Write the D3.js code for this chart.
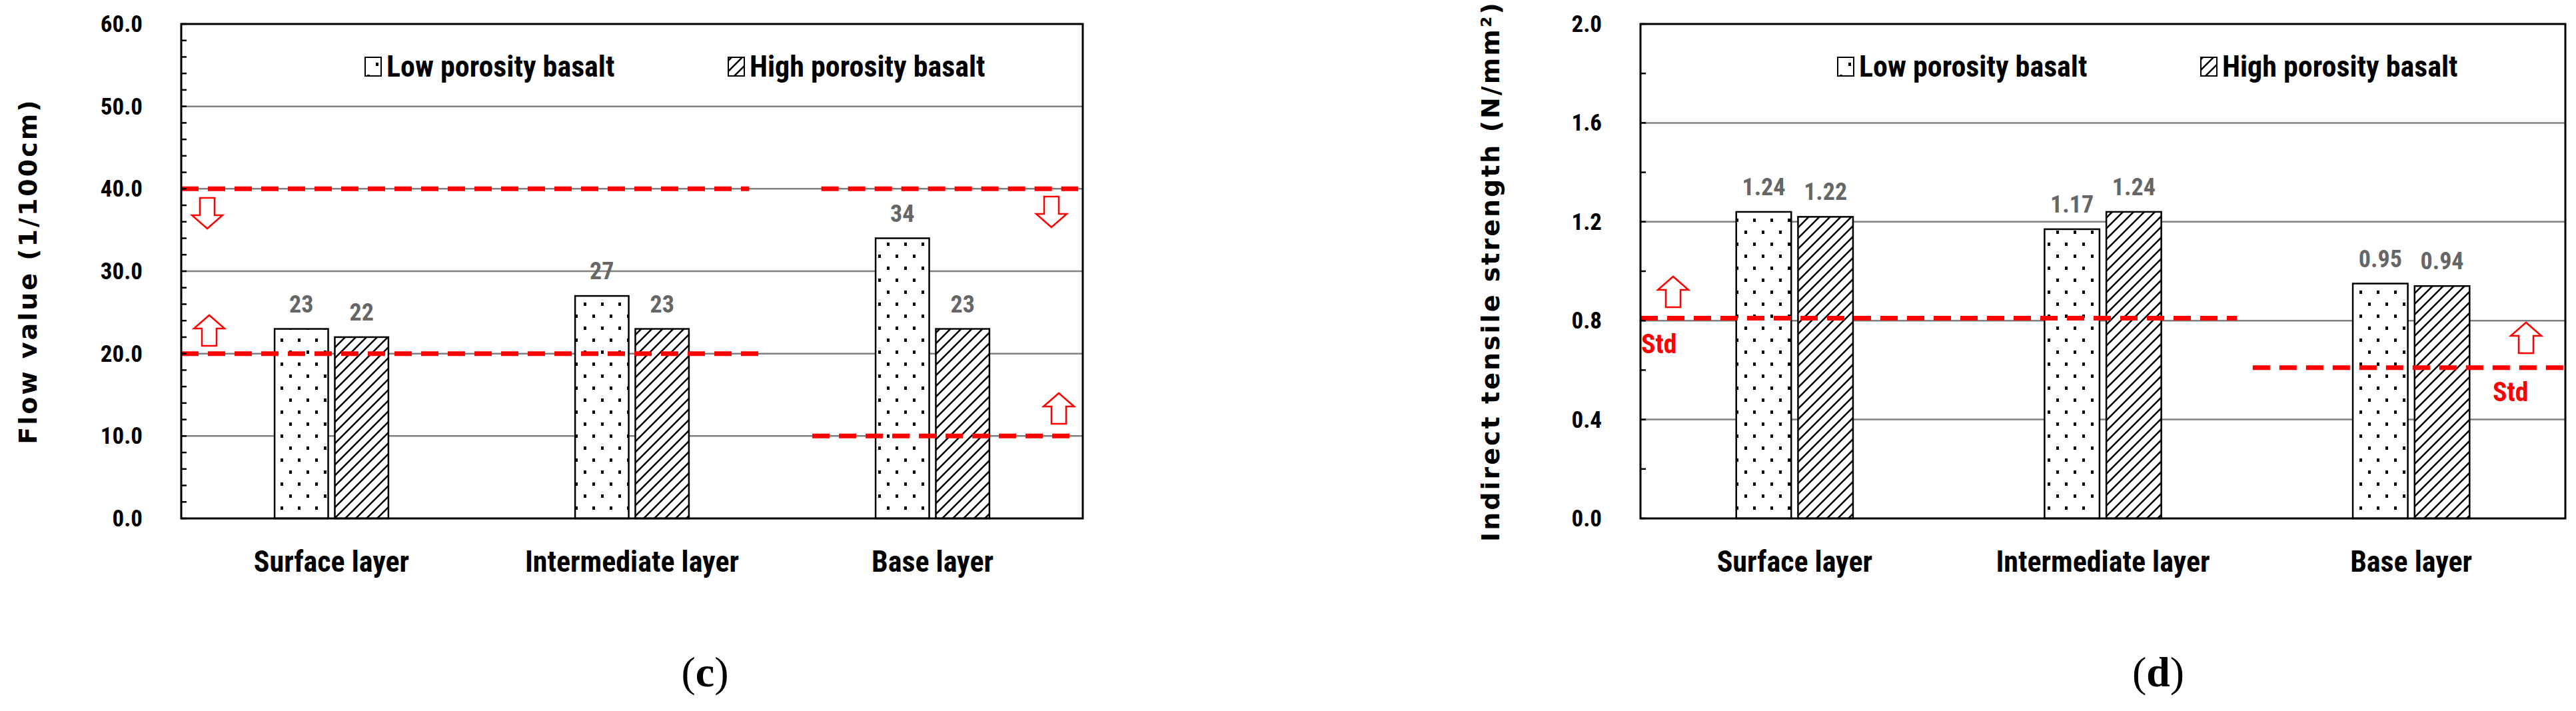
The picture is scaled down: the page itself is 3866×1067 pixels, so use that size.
<!DOCTYPE html>
<html><head><meta charset="UTF-8">
<script src="https://cdnjs.cloudflare.com/ajax/libs/d3/7.9.0/d3.min.js"></script>
<style>
body{margin:0;background:#fff}
.lbl{font-family:"Liberation Sans Narrow","Roboto Condensed","Liberation Sans",sans-serif;font-weight:700}
</style></head>
<body><svg id="c" width="3866" height="1067"></svg>
<script>
const categories = ["Surface layer","Intermediate layer","Base layer"];
const series = ["Low porosity basalt","High porosity basalt"];
const flowLow = [23,27,34], flowHigh = [22,23,23];
const itsLow = [1.24,1.17,0.95], itsHigh = [1.22,1.24,0.94];
const flowTicks = [0,10,20,30,40,50,60];
const itsTicks = [0,0.4,0.8,1.2,1.6,2.0];
// std limits: [value, from category index (start fraction), to fraction]
const flowStd = [[40,0,0.63],[20,0,0.65],[40,0.71,0.995],[10,0.70,0.986]];
const itsStd = [[0.81,0,0.645],[0.61,0.662,1]];

const svg = d3.select("#c");
const defs = svg.append("defs");
const dots = defs.append("pattern").attr("id","dots").attr("patternUnits","userSpaceOnUse").attr("width",26).attr("height",36);
dots.append("rect").attr("width",26).attr("height",36).attr("fill","#fff");
dots.append("rect").attr("x",5).attr("y",4).attr("width",4).attr("height",5).attr("fill","#000");
dots.append("rect").attr("x",18).attr("y",22).attr("width",4).attr("height",5).attr("fill","#000");
const hatch = defs.append("pattern").attr("id","hatch").attr("patternUnits","userSpaceOnUse").attr("width",16).attr("height",16);
hatch.append("rect").attr("width",16).attr("height",16).attr("fill","#fff");
hatch.append("path").attr("d","M-4,20 L20,-4 M-4,4 L4,-4 M12,20 L20,12").attr("stroke","#000").attr("stroke-width",2.6);

function panel(o){
  const g = svg.append("g");
  const x0 = d3.scaleBand().domain(categories).range([o.left,o.right]);
  const x1 = d3.scaleBand().domain(series).range([0,x0.bandwidth()]).paddingInner(0.11).paddingOuter(1.55);
  const y = d3.scaleLinear().domain([0,o.max]).range([778,36]);
  // grid
  g.selectAll(".grid").data(o.ticks.slice(1,-1)).join("line")
    .attr("x1",o.left).attr("x2",o.right).attr("y1",d=>y(d)).attr("y2",d=>y(d))
    .attr("stroke","#808080").attr("stroke-width",2.5);
  // bars
  categories.forEach((c,i)=>{
    [o.low[i],o.high[i]].forEach((v,j)=>{
      const bx = x0(c)+x1(series[j]);
      g.append("rect").attr("x",bx).attr("y",y(v)).attr("width",x1.bandwidth()).attr("height",y(0)-y(v))
        .attr("fill",j?"url(#hatch)":"url(#dots)").attr("stroke","#000").attr("stroke-width",2.5);
      g.append("text").attr("class","lbl").attr("x",bx+x1.bandwidth()/2).attr("y",y(v)-o.lblOff[j])
        .attr("text-anchor","middle").attr("font-size",36).attr("fill","#666").text(o.fmt(v));
    });
    g.append("text").attr("class","lbl").attr("x",x0(c)+x0.bandwidth()/2).attr("y",858)
      .attr("text-anchor","middle").attr("font-size",44).attr("fill","#000").text(c);
  });
  // std lines
  const W = o.right-o.left;
  o.std.forEach(s=>{
    g.append("line").attr("x1",o.left+s[1]*W).attr("x2",o.left+s[2]*W).attr("y1",y(s[0])).attr("y2",y(s[0]))
      .attr("stroke","#f00").attr("stroke-width",7).attr("stroke-dasharray","26,14");
  });
  // arrows
  o.arrows.forEach(a=>{
    const cx=a[0], ty=a[1], dir=a[2];
    const p = dir<0 ? `M${cx-11},${ty} h22 v26 h12 l-23,20 l-23,-20 h12 z`
                    : `M${cx-11},${ty+46} h22 v-26 h12 l-23,-20 l-23,20 h12 z`;
    g.append("path").attr("d",p).attr("fill","#fff").attr("stroke","#f00").attr("stroke-width",2.5);
  });
  (o.stdLbl||[]).forEach(s=>g.append("text").attr("class","lbl").attr("x",s[0]).attr("y",s[1])
    .attr("font-size",40).attr("fill","#f00").text("Std"));
  // axes frame
  g.append("rect").attr("x",o.left).attr("y",36).attr("width",W).attr("height",742)
    .attr("fill","none").attr("stroke","#000").attr("stroke-width",3);
  g.selectAll(".mt").data(d3.range(0,o.max+1e-9,o.minor)).join("line")
    .attr("x1",o.left).attr("x2",o.left+8).attr("y1",d=>y(d)).attr("y2",d=>y(d)).attr("stroke","#000").attr("stroke-width",2.5);
  g.selectAll(".tl").data(o.ticks).join("text").attr("class","lbl")
    .attr("x",o.left-58).attr("y",d=>y(d)+12).attr("text-anchor","end").attr("font-size",35).text(d=>d.toFixed(1));
  g.append("text").attr("transform",`translate(${o.titleX},${(36+778)/2}) rotate(-90)`).attr("text-anchor","middle")
    .attr("font-family","DejaVu Sans").attr("font-weight",700).attr("font-size",38).attr("letter-spacing",3).text(o.title);
  // legend
  const lx=o.legX;
  g.append("rect").attr("x",lx).attr("y",86).attr("width",24).attr("height",28).attr("fill","url(#dots)").attr("stroke","#000").attr("stroke-width",2);
  g.append("text").attr("class","lbl").attr("x",lx+32).attr("y",115).attr("font-size",44).text(series[0]);
  g.append("rect").attr("x",o.leg2X).attr("y",86).attr("width",24).attr("height",28).attr("fill","url(#hatch)").attr("stroke","#000").attr("stroke-width",2);
  g.append("text").attr("class","lbl").attr("x",o.leg2X+32).attr("y",115).attr("font-size",44).text(series[1]);
  g.append("text").attr("x",o.capX).attr("y",1030).attr("text-anchor","middle").attr("font-family","Liberation Serif")
    .attr("font-size",64).html(`(<tspan font-weight="700">${o.cap}</tspan>)`);
}
panel({left:272,right:1625,max:60,ticks:flowTicks,minor:2,low:flowLow,high:flowHigh,std:flowStd,fmt:d=>d,
  lblOff:[25,25],title:"Flow value (1/100cm)",titleX:55,legX:548,leg2X:1093,capX:1058,cap:"c",
  arrows:[[311,297,-1],[314,473,1],[1578,295,-1],[1589,590,1]]});
panel({left:2462,right:3850,max:2,ticks:itsTicks,minor:0.2,low:itsLow,high:itsHigh,std:itsStd,fmt:d=>d.toFixed(2),
  lblOff:[25,25],title:"Indirect tensile strength (N/mm²)",titleX:2250,legX:2758,leg2X:3303,capX:3239,cap:"d",
  stdLbl:[[2463,530],[3741,602]],arrows:[[2511,415,1],[3791,484,1]]});
</script></body></html>
